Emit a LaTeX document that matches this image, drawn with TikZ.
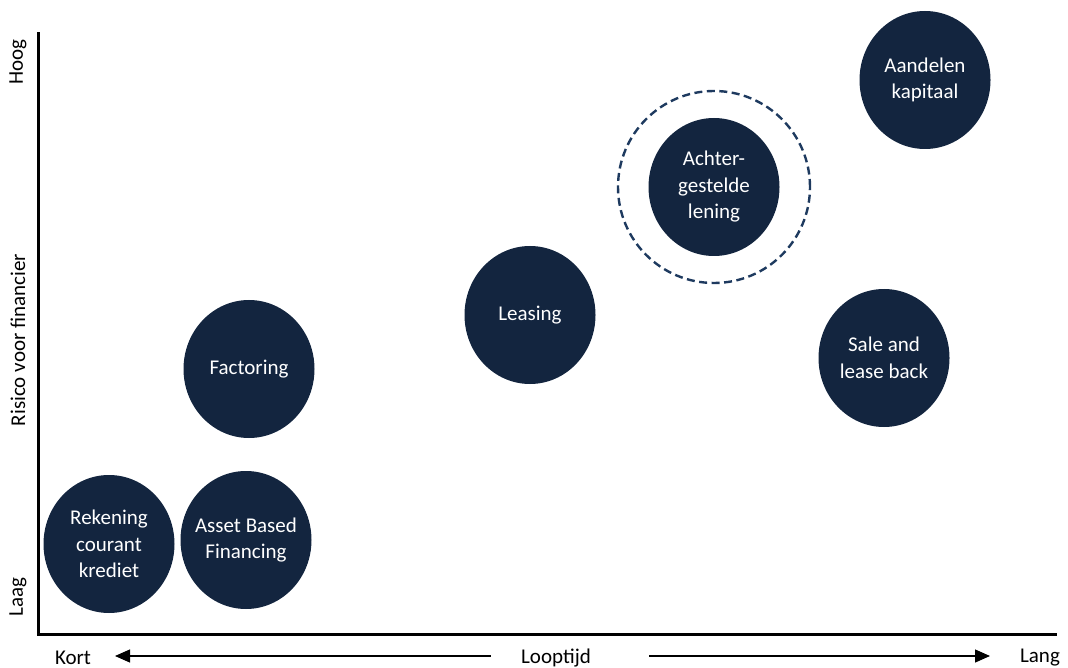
\documentclass[tikz,border=0pt]{standalone}
\usepackage{fontspec}
\setmainfont{Carlito}
\usetikzlibrary{arrows.meta,shapes.geometric}
\definecolor{navy}{HTML}{13253F}
\definecolor{dashnavy}{HTML}{1E3A5F}
\begin{document}
\begin{tikzpicture}[x=1pt,y=-1pt,
  bubble/.style={ellipse,fill=navy,text=white,minimum width=131pt,minimum height=138pt,
    inner xsep=-12pt,inner ysep=0pt,align=center,font=\fontsize{21}{26.5}\selectfont},
  axislabel/.style={font=\fontsize{21}{24}\selectfont,inner sep=0pt},
  axisline/.style={line width=3pt,line cap=rect},
  timearrow/.style={line width=1.2pt,-{Triangle[length=15pt,width=13pt]}}]
  \useasboundingbox (0,0) rectangle (1068,668);

  % axes
  \coordinate (top) at (38,34);
  \coordinate (origin) at (38,634);
  \coordinate (right) at (1055,634);
  \draw[axisline] (top) -- (origin) -- (right);

  % vertical axis labels
  \node[axislabel,rotate=90] (hoog) at (18,62) {Hoog};
  \node[axislabel,rotate=90] (risico) at (18,340) {Risico voor financier};
  \node[axislabel,rotate=90] (laag) at (18,597) {Laag};

  % horizontal axis labels and arrows
  \node[axislabel] (kort) at (73,658) {Kort};
  \node[axislabel] (looptijd) at (556,658) {Looptijd};
  \node[axislabel] (lang) at (1040,658) {Lang};
  \coordinate (kortend) at (115,656);
  \coordinate (langend) at (990,656);
  \draw[timearrow] (looptijd.west |- kortend) ++(-30,0) -- (kortend);
  \draw[timearrow] (looptijd.east |- langend) ++(58,0) -- (langend);

  % financing forms
  \node[bubble] (rekening) at (109,544) {Rekening\\courant\\krediet};
  \node[bubble] (abf) at (246,540) {Asset Based\\Financing};
  \node[bubble] (factoring) at (249,369) {Factoring};
  \node[bubble] (leasing) at (530,315) {Leasing};
  \node[bubble] (achter) at (714,187) {Achter-\\gestelde\\lening};
  \node[bubble] (aandelen) at (925,80) {Aandelen\\kapitaal};
  \node[bubble] (sale) at (884,358) {Sale and\\lease back};

  % highlight ring
  \node[circle,draw=dashnavy,line width=2.4pt,dash pattern=on 8pt off 4.5pt,
        minimum size=192pt,inner sep=0pt] (ring) at (achter.center) {};
\end{tikzpicture}
\end{document}
